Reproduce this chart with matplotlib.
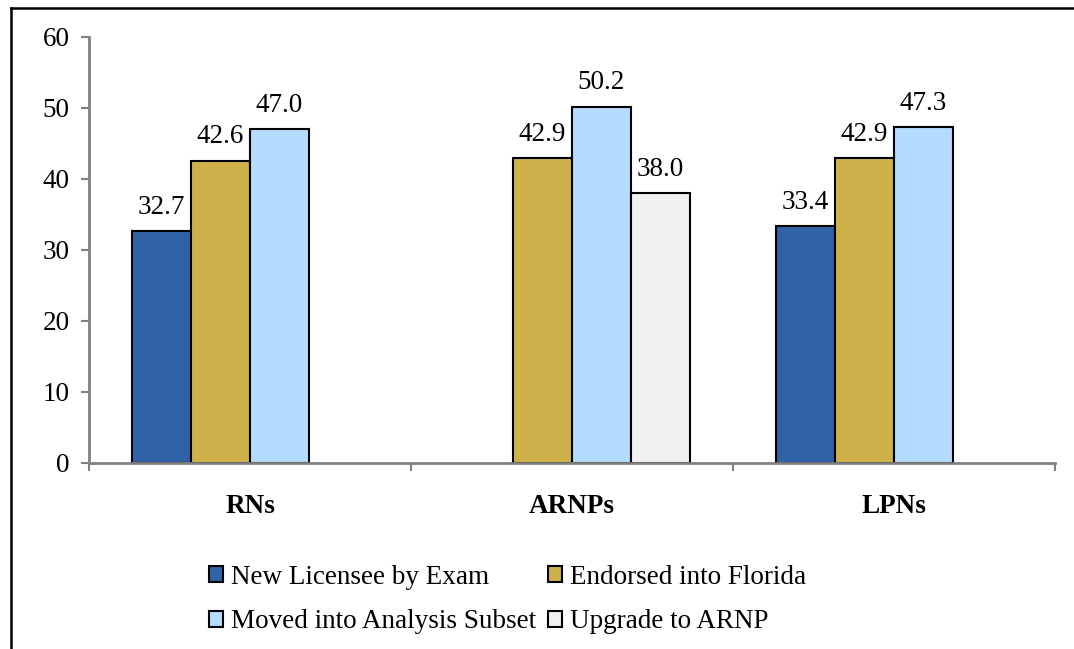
import numpy as np
import matplotlib
matplotlib.use('Agg')
import matplotlib.pyplot as plt
from matplotlib.lines import Line2D

plt.rcParams['font.family'] = ['Liberation Serif', 'DejaVu Serif']

# data
groups = ['RNs', 'ARNPs', 'LPNs']
series_names = ['New Licensee by Exam', 'Endorsed into Florida',
                'Moved into Analysis Subset', 'Upgrade to ARNP']
new_licensee = [32.7, np.nan, 33.4]
endorsed = [42.6, 42.9, 42.9]
moved = [47.0, 50.2, 47.3]
upgrade = [np.nan, 38.0, np.nan]
y_ticks = [0, 10, 20, 30, 40, 50, 60]

colors = ['#3063A5', '#CFB14C', '#B5DBFF', '#F0F0F0']
fs = 19.5

fig = plt.figure(figsize=(10.74, 6.49), dpi=100)
ax = fig.add_axes([0.0829, 0.2866, 0.8994, 0.6564])

x = np.arange(len(groups))
width = 0.183
all_series = [new_licensee, endorsed, moved, upgrade]
for i, (vals, name, col) in enumerate(zip(all_series, series_names, colors)):
    offs = (i - 1.5) * width
    bars = ax.bar(x + offs, vals, width, color=col, edgecolor='black',
                  linewidth=1.5, label=name)
    for b, v in zip(bars, vals):
        if not np.isnan(v):
            ax.annotate('%.1f' % v, (b.get_x() + b.get_width() / 2, v),
                        xytext=(0, 8), textcoords='offset points',
                        ha='center', va='bottom', fontsize=fs)

ax.set_xlim(-0.5, 2.5)
ax.set_ylim(0, 60)
ax.set_yticks(y_ticks)
ax.tick_params(axis='y', labelsize=fs, length=6, width=1.5, color='#808080',
               direction='out', pad=8)
# category boundary ticks on the x axis
ax.set_xticks([-0.5, 0.5, 1.5, 2.5])
ax.set_xticklabels([])
ax.tick_params(axis='x', length=6, width=1.5, color='#808080', direction='out')
for xi, g in zip(x, groups):
    ax.text(xi, -0.072, g, transform=ax.get_xaxis_transform(), ha='center',
            va='top', fontsize=fs, fontweight='bold')

for side in ['top', 'right']:
    ax.spines[side].set_visible(False)
for side in ['left', 'bottom']:
    ax.spines[side].set_color('#808080')
    ax.spines[side].set_linewidth(2)

# legend filled row by row like the original
handles, labels = ax.get_legend_handles_labels()
order = [0, 2, 1, 3]
leg = fig.legend([handles[k] for k in order], [labels[k] for k in order],
                 ncol=2, loc='upper left', bbox_to_anchor=(0.195, 0.130),
                 frameon=False, fontsize=fs, handlelength=0.5,
                 handleheight=0.5, handletextpad=0.3, columnspacing=0.45,
                 labelspacing=0.73, borderaxespad=0, borderpad=0)

# outer frame (left and top only visible)
fig.add_artist(Line2D([0.0105, 0.0105], [0, 0.988], color='black', lw=1.8,
                      transform=fig.transFigure))
fig.add_artist(Line2D([0.0105, 1.0], [0.988, 0.988], color='black', lw=1.8,
                      transform=fig.transFigure))

fig.savefig('out.png', dpi=100)
